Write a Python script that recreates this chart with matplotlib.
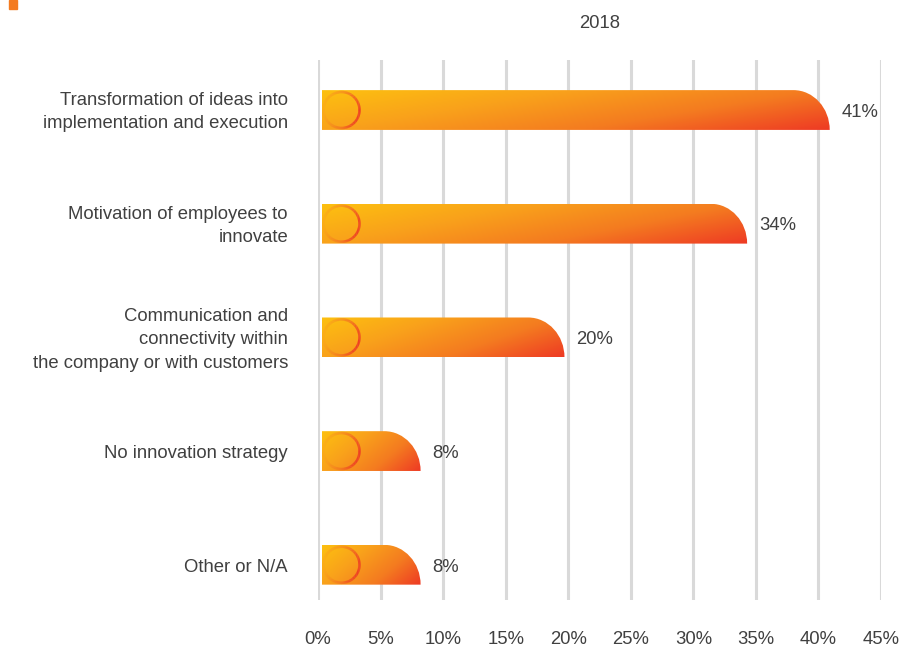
import numpy as np
import matplotlib.pyplot as plt
import matplotlib.transforms as mtransforms
from matplotlib.path import Path
from matplotlib.patches import PathPatch, Rectangle
from matplotlib.collections import LineCollection
from matplotlib.colors import LinearSegmentedColormap

plt.rcParams['font.family'] = ['Liberation Sans', 'DejaVu Sans']

categories = ['Transformation of ideas into\nimplementation and execution',
              'Motivation of employees to\ninnovate',
              'Communication and\nconnectivity within\nthe company or with customers',
              'No innovation strategy',
              'Other or N/A']
values = [40.9, 34.3, 19.7, 8.2, 8.2]
value_labels = ['41%', '34%', '20%', '8%', '8%']
ticks = [0, 5, 10, 15, 20, 25, 30, 35, 40, 45]
title = '2018'

text_col = '#404040'
grid_col = '#D9D9D9'
cmap = LinearSegmentedColormap.from_list('bar', ['#FDC010', '#F9A11B', '#F47B20', '#EE3A24'])
fs = 13.3

fig = plt.figure(figsize=(9.02, 6.48), dpi=100)
ax = fig.add_axes([318 / 902, 48 / 648, 563 / 902, 540 / 648])
ax.set_xlim(0, 45)
ax.set_ylim(4.31, -0.44)
for s in ax.spines.values():
    s.set_visible(False)

for t in ticks:
    ax.axvline(t, color=grid_col, lw=2.2, zorder=0)
ax.set_xticks(ticks)
ax.set_xticklabels([f'{t}%' for t in ticks], fontsize=fs, color=text_col)
ax.tick_params(axis='x', length=0, pad=22)
ax.set_yticks([])

h = 0.35
x0 = 0.3
r = 2.9  # horizontal radius of rounded corner (data units)
grad = np.add.outer(np.linspace(0, 0.35, 50), np.linspace(0, 0.75, 200))
for i, v in enumerate(values):
    top, bot = i - h / 2, i + h / 2
    k = 0.5523
    verts = [(x0, bot), (x0, top), (v - r, top),
             (v - r + k * r, top), (v, bot - k * (bot - top)), (v, bot),
             (x0, bot)]
    codes = [Path.MOVETO, Path.LINETO, Path.LINETO,
             Path.CURVE4, Path.CURVE4, Path.CURVE4, Path.CLOSEPOLY]
    patch = PathPatch(Path(verts, codes), facecolor='none', edgecolor='none')
    ax.add_patch(patch)
    g = grad / grad.max()
    im = ax.imshow(g, cmap=cmap, extent=(x0, v, bot, top), aspect='auto',
                   interpolation='bilinear', zorder=2)
    im.set_clip_path(patch)

    # ring icon
    th = np.linspace(0, 2 * np.pi, 121)
    rad = 0.18
    pts = np.column_stack([rad * np.cos(th), rad * np.sin(th)])
    segs = np.stack([pts[:-1], pts[1:]], axis=1)
    trans = fig.dpi_scale_trans + mtransforms.ScaledTranslation(1.88, i, ax.transData)
    c = (np.cos((th[:-1] + th[1:]) / 2 + 0.3) + 1) / 2
    lc = LineCollection(segs, colors=cmap(0.2 + 0.8 * c), linewidths=1.8,
                        transform=trans, zorder=3)
    ax.add_collection(lc)

    ax.text(v + 0.95, i + 0.02, value_labels[i], va='center', ha='left',
            fontsize=fs, color=text_col)
    ax.text(288 / 902, 1 - (i * 114 + 112) / 648, categories[i], transform=fig.transFigure,
            ha='right', va='center', fontsize=fs, color=text_col,
            linespacing=1.5, multialignment='right')

fig.text(599.5 / 902, 1 - 24 / 648, title, ha='center', va='center',
         fontsize=fs, color=text_col)
fig.patches.append(Rectangle((9 / 902, 1 - 8.5 / 648), 8 / 902, 8.5 / 648,
                             transform=fig.transFigure, color='#F47B20', figure=fig))

fig.savefig('out.png', dpi=100)
